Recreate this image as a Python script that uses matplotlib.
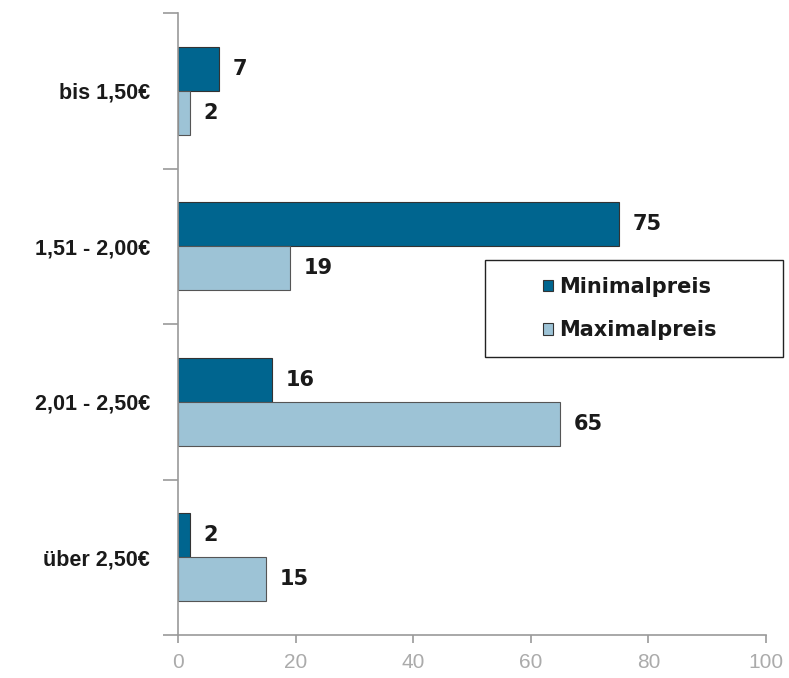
import numpy as np
import matplotlib.pyplot as plt
from matplotlib.patches import Rectangle

categories = ["bis 1,50€", "1,51 - 2,00€", "2,01 - 2,50€", "über 2,50€"]
minimalpreis = [7, 75, 16, 2]
maximalpreis = [2, 19, 65, 15]
xticks = [0, 20, 40, 60, 80, 100]

plt.rcParams["font.family"] = ["Liberation Sans", "DejaVu Sans"]

dark = "#00658f"
light = "#9dc3d6"
grey = "#9a9a9a"

fig = plt.figure(figsize=(7.89, 6.78), dpi=100)
ax = fig.add_axes([0.2256, 0.0634, 0.7452, 0.9174])

pos = np.arange(len(categories))[::-1]
h = 0.283
bars_min = ax.barh(pos + h / 2, minimalpreis, height=h, color=dark,
                   edgecolor="#333333", linewidth=0.8, label="Minimalpreis")
bars_max = ax.barh(pos - h / 2, maximalpreis, height=h, color=light,
                   edgecolor="#555555", linewidth=0.8, label="Maximalpreis")

for bars, vals in [(bars_min, minimalpreis), (bars_max, maximalpreis)]:
    for b, v in zip(bars, vals):
        ax.annotate(str(v), xy=(v, b.get_y() + b.get_height() / 2),
                    xytext=(10, 0), textcoords="offset points",
                    va="center", ha="left", fontsize=15, fontweight="bold",
                    family=["DejaVu Sans"], color="#1a1a1a")

ax.set_xlim(0, 100)
ax.set_ylim(-0.5, 3.5)
ax.set_xticks(xticks)
ax.tick_params(axis="x", colors=grey, labelsize=15, length=6, width=1.2,
               direction="out", pad=7)
ax.tick_params(axis="x", labelcolor="#ababab")

ax.set_yticks(np.arange(-0.5, 4, 1))
ax.set_yticklabels([])
ax.tick_params(axis="y", which="major", length=11, width=1.2, colors=grey)
ax.set_yticks(pos, minor=True)
ax.set_yticklabels(categories, minor=True, fontsize=15.5, fontweight="bold",
                   color="#1a1a1a")
ax.tick_params(axis="y", which="minor", length=0, pad=20)

for s in ["top", "right"]:
    ax.spines[s].set_visible(False)
for s in ["left", "bottom"]:
    ax.spines[s].set_color(grey)
    ax.spines[s].set_linewidth(1.2)

# legend box drawn separately so the padding can be wider than tall
fig.patches.append(Rectangle((485 / 789, 1 - 357 / 678), 298 / 789, 97 / 678,
                             transform=fig.transFigure, facecolor="white",
                             edgecolor="#222222", linewidth=1.0, zorder=3))
leg = fig.legend(handles=[bars_min, bars_max], loc="center",
                 bbox_to_anchor=(630 / 789, 1 - 308.5 / 678),
                 frameon=False, prop={"size": 15, "weight": "bold",
                                      "family": "DejaVu Sans"},
                 handlelength=0.45, handleheight=0.45, handletextpad=0.3,
                 labelspacing=1.15, borderpad=0)
leg.set_zorder(4)
for t in leg.get_texts():
    t.set_color("#1a1a1a")
for p in leg.get_patches():
    p.set_edgecolor("#333333")

plt.savefig("out.png", dpi=100)
